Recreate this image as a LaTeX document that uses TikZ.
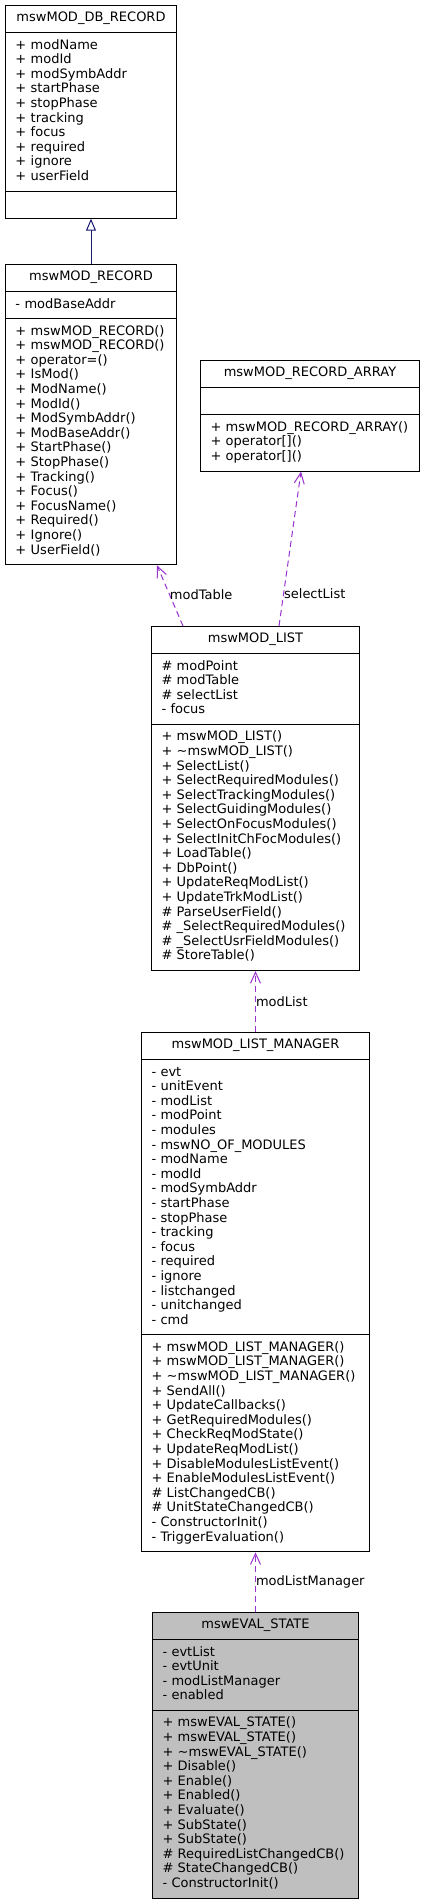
\documentclass[tikz,border=0pt]{standalone}
\usepackage{fontspec}
\setmainfont{DejaVu Sans}
\usetikzlibrary{shapes.multipart,arrows.meta}
\definecolor{umlnavy}{HTML}{191970}
\definecolor{umlorchid}{HTML}{9A32CD}
\newcommand{\clsname}[1]{\makebox[\linewidth]{\strut #1}}
\begin{document}
\begin{tikzpicture}[x=1pt,y=-1pt,line width=1pt,
        cls/.style={draw,anchor=north west,rectangle split,rectangle split parts=3,
          inner xsep=10pt,inner ysep=5.75pt,align=left,font=\fontsize{13}{14.6}\selectfont},
        uses/.style={draw=umlorchid,dash pattern=on 6pt off 4pt,-{Straight Barb[length=11pt,width=10pt]}},
        inherit/.style={draw=umlnavy,-{Triangle[open,fill=white,length=12pt,width=10pt]}},
        role/.style={anchor=west,inner sep=0pt,font=\fontsize{13}{14.6}\selectfont}]
        \useasboundingbox (0,0) rectangle (424,1899);

        \node[cls,text width=151pt] (dbrec) at (5,5) {\clsname{mswMOD\_DB\_RECORD}
          \nodepart{two}\strut+~modName\\+~modId\\+~modSymbAddr\\+~startPhase\\+~stopPhase\\
          +~tracking\\+~focus\\+~required\\+~ignore\\+~userField\strut
          \nodepart{three}\strut};

        \node[cls,text width=151pt] (modrec) at (5,264) {\clsname{mswMOD\_RECORD}
          \nodepart{two}\strut-~modBaseAddr\strut
          \nodepart{three}\strut+~mswMOD\_RECORD()\\+~mswMOD\_RECORD()\\+~operator=()\\+~IsMod()\\
          +~ModName()\\+~ModId()\\+~ModSymbAddr()\\+~ModBaseAddr()\\+~StartPhase()\\+~StopPhase()\\
          +~Tracking()\\+~Focus()\\+~FocusName()\\+~Required()\\+~Ignore()\\+~UserField()\strut};

        \node[cls,text width=199pt] (recarr) at (200,360) {\clsname{mswMOD\_RECORD\_ARRAY}
          \nodepart{two}\strut
          \nodepart{three}\strut+~mswMOD\_RECORD\_ARRAY()\\+~operator[]()\\+~operator[]()\strut};

        \node[cls,text width=188pt] (modlist) at (151,626) {\clsname{mswMOD\_LIST}
          \nodepart{two}\strut\#~modPoint\\\#~modTable\\\#~selectList\\-~focus\strut
          \nodepart{three}\strut+~mswMOD\_LIST()\\+~\textasciitilde mswMOD\_LIST()\\+~SelectList()\\
          +~SelectRequiredModules()\\+~SelectTrackingModules()\\+~SelectGuidingModules()\\
          +~SelectOnFocusModules()\\+~SelectInitChFocModules()\\+~LoadTable()\\+~DbPoint()\\
          +~UpdateReqModList()\\+~UpdateTrkModList()\\\#~ParseUserField()\\
          \#~\_SelectRequiredModules()\\\#~\_SelectUsrFieldModules()\\\#~StoreTable()\strut};

        \node[cls,text width=208pt] (listmgr) at (141,1032) {\clsname{mswMOD\_LIST\_MANAGER}
          \nodepart{two}\strut-~evt\\-~unitEvent\\-~modList\\-~modPoint\\-~modules\\
          -~mswNO\_OF\_MODULES\\-~modName\\-~modId\\-~modSymbAddr\\-~startPhase\\-~stopPhase\\
          -~tracking\\-~focus\\-~required\\-~ignore\\-~listchanged\\-~unitchanged\\-~cmd\strut
          \nodepart{three}\strut+~mswMOD\_LIST\_MANAGER()\\+~mswMOD\_LIST\_MANAGER()\\
          +~\textasciitilde mswMOD\_LIST\_MANAGER()\\+~SendAll()\\+~UpdateCallbacks()\\
          +~GetRequiredModules()\\+~CheckReqModState()\\+~UpdateReqModList()\\
          +~DisableModulesListEvent()\\+~EnableModulesListEvent()\\\#~ListChangedCB()\\
          \#~UnitStateChangedCB()\\-~ConstructorInit()\\-~TriggerEvaluation()\strut};

        \node[cls,text width=186pt,fill=gray!50] (evalstate) at (152,1612) {\clsname{mswEVAL\_STATE}
          \nodepart{two}\strut-~evtList\\-~evtUnit\\-~modListManager\\-~enabled\strut
          \nodepart{three}\strut+~mswEVAL\_STATE()\\+~mswEVAL\_STATE()\\+~\textasciitilde mswEVAL\_STATE()\\
          +~Disable()\\+~Enable()\\+~Enabled()\\+~Evaluate()\\+~SubState()\\+~SubState()\\
          \#~RequiredListChangedCB()\\\#~StateChangedCB()\\-~ConstructorInit()\strut};

        \draw[inherit] (modrec.north) -- (dbrec.south);
        \draw[uses] ([xshift=32pt]modlist.north west) -- node[role,pos=.52] {modTable} ([xshift=-20pt]modrec.south east);
        \draw[uses] ([xshift=128pt]modlist.north west) -- node[role,pos=.21] {selectList} ([xshift=101pt]recarr.south west);
        \draw[uses] (listmgr.north) -- node[role] {modList} (modlist.south);
        \draw[uses] (evalstate.north) -- node[role] {modListManager} (listmgr.south);
      \end{tikzpicture}
\end{document}
